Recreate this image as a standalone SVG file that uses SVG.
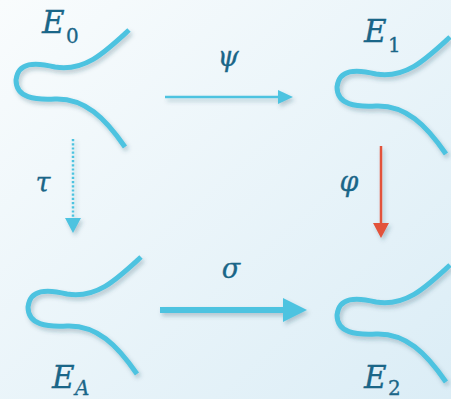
<svg xmlns="http://www.w3.org/2000/svg" width="451" height="399" viewBox="0 0 451 399">
<defs>
<linearGradient id="bg" x1="0" y1="0" x2="1" y2="1">
<stop offset="0" stop-color="#f9fcfd"/>
<stop offset="1" stop-color="#dbedf6"/>
</linearGradient>
<filter id="sh" x="-20%" y="-20%" width="150%" height="150%">
<feDropShadow dx="2" dy="3" stdDeviation="2" flood-color="#1a4a60" flood-opacity="0.28"/>
</filter>
<path id="curve" d="M129,30 C105,52 85,72 55,67 C35,62 18,62 16,80 C16,98 35,100 55,99 C85,98 105,118 125,147"/>
</defs>
<style>
.crv{fill:none;stroke:#4ec3e0;stroke-width:5;stroke-linecap:butt;filter:url(#sh)}
.lbl{font-family:"DejaVu Serif","Liberation Serif",serif;font-style:italic;fill:#1a6688;stroke:#1a6688;stroke-width:0.3}
.big{font-size:31px}
.sub{font-size:20px;font-style:normal}
.subi{font-size:20px}
.gk{font-size:27px;text-anchor:middle}
.ln{fill:none;stroke:#4ec3e0}
.hd{fill:#4ec3e0}
</style>
<rect width="451" height="399" fill="url(#bg)"/>
<g id="E0">
<use href="#curve" class="crv"/>
<text class="lbl big" x="42" y="33">E</text><text class="lbl sub" x="66" y="43">0</text>
</g>
<g id="E1">
<use href="#curve" class="crv" transform="translate(321,7)"/>
<text class="lbl big" x="364" y="42">E</text><text class="lbl sub" x="388" y="52">1</text>
</g>
<g id="EA">
<use href="#curve" class="crv" transform="translate(12,227)"/>
<text class="lbl big" x="52" y="388">E</text><text class="lbl subi" x="75" y="395">A</text>
</g>
<g id="E2">
<use href="#curve" class="crv" transform="translate(321,235)"/>
<text class="lbl big" x="364" y="388">E</text><text class="lbl sub" x="388" y="395">2</text>
</g>
<g id="connectors" filter="url(#sh)">
<g id="psi">
<line class="ln" x1="165" y1="97" x2="280" y2="97" stroke-width="2.5"/>
<polygon class="hd" points="278,90 293,97 278,104"/>
</g>
<g id="sigma">
<line class="ln" x1="160" y1="310" x2="285" y2="310" stroke-width="6"/>
<polygon class="hd" points="283,298 307,310 283,322"/>
</g>
<g id="tau">
<line class="ln" x1="73" y1="139" x2="73" y2="219" stroke-width="2.5" stroke-dasharray="2.2 2"/>
<polygon class="hd" points="65,218 81,218 73,233"/>
</g>
<g id="phi">
<line x1="381" y1="146" x2="381" y2="224" stroke="#e2533b" stroke-width="2.5"/>
<polygon fill="#e2533b" points="373,223 389,223 381,238"/>
</g>
</g>
<text class="lbl gk" x="228" y="66">ψ</text>
<text class="lbl gk" x="231" y="278">σ</text>
<text class="lbl gk" x="43" y="192">τ</text>
<text class="lbl gk" x="349" y="191">φ</text>
</svg>
